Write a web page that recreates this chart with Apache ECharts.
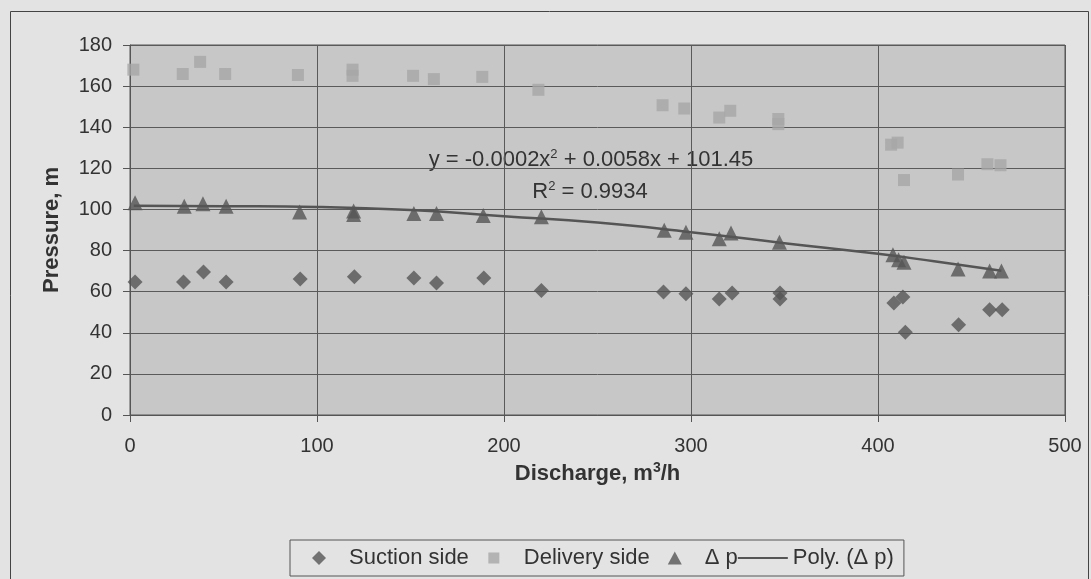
<!DOCTYPE html>
<html>
<head>
<meta charset="utf-8">
<script src="https://cdn.jsdelivr.net/npm/echarts@6/dist/echarts.min.js"></script>
<style>
  html, body { margin: 0; padding: 0; background: #e3e3e3; }
  #chart { width: 1091px; height: 579px; }
</style>
</head>
<body>
<div id="chart"></div>
<script>
// values (discharge m3/h, pressure m)
var suctionX = [2.7, 28.6, 39.3, 51.4, 91, 120, 151.8, 163.9, 189.2, 220, 285.3, 297.3, 315.1, 322, 347.6, 347.6, 408.5, 413.3, 414.6, 443.1, 459.7, 466.4];
var suctionY = [64.7, 64.7, 69.6, 64.7, 66.2, 67.2, 66.7, 64.2, 66.7, 60.6, 59.8, 59, 56.4, 59.3, 59.4, 56.4, 54.5, 57.4, 40.2, 43.9, 51.2, 51.2];

var deliveryX = [1.8, 28.2, 37.5, 50.9, 89.8, 119, 119, 151.4, 162.5, 188.4, 218.4, 284.8, 296.4, 315.1, 321, 346.7, 346.7, 407, 410.5, 413.9, 442.8, 458.5, 465.5];
var deliveryY = [168, 165.9, 171.8, 165.9, 165.4, 168, 165, 165, 163.4, 164.5, 158.2, 150.7, 149.1, 144.7, 148, 144, 141.5, 131.5, 132.5, 114.3, 117, 122, 121.5];

var deltaX = [2.7, 29, 39, 51.4, 90.7, 119.6, 119.6, 151.8, 163.9, 188.9, 220, 285.7, 297.3, 315.1, 321.4, 347.3, 408, 411, 413.9, 442.8, 459.7, 466];
var deltaY = [103.3, 101.6, 102.8, 101.6, 98.7, 99.2, 97.5, 98, 98, 97.1, 96.4, 89.9, 88.9, 85.7, 88.6, 84, 78, 75.5, 74.3, 71, 70, 70];

// trend line as traced on the picture
var trendX = [2, 50, 100, 150, 200, 250, 300, 350, 400, 430, 466];
var trendY = [101.8, 101.6, 101.2, 99.7, 96.7, 93.6, 88.9, 83.6, 78.4, 74.8, 70.2];

var seriesNames = ["Suction side", "Delivery side", "\u0394 p", "Poly. (\u0394 p)"];

function pairs(xs, ys) {
  return xs.map(function (x, i) { return [x, ys[i]]; });
}

// legend icons: the leading moves pin the box to 50x14 so the marks sit centred
var iconBox = "path://M0,0M50,14";
var legendIcons = [
  iconBox + "M25,0L32,7L25,14L18,7Z",
  iconBox + "M19.5,1.5H30.5V12.5H19.5Z",
  iconBox + "M25,0.5L32,13.5H18Z",
  iconBox + "M0,6H50V8H0Z"
];

var chart = echarts.init(document.getElementById("chart"));
var font = "Liberation Sans, Arial, sans-serif";

var supText = {
  t: { fontSize: 22, fill: "#333", fontFamily: font },
  s: { fontSize: 13, fill: "#333", fontFamily: font, verticalAlign: "top", padding: [0, 0, 12, 0] }
};

var option = {
  backgroundColor: "#e3e3e3",
  animation: false,
  textStyle: { fontFamily: font },
  grid: {
    left: 130, top: 45, right: 26, bottom: 164,
    show: true,
    backgroundColor: "#c7c7c7",
    borderColor: "#555",
    borderWidth: 1
  },
  xAxis: {
    type: "value",
    min: 0, max: 500, interval: 100,
    name: "{t|Discharge, m}{s|3}{t|/h}",
    nameLocation: "middle",
    nameGap: 42,
    nameTextStyle: {
      rich: {
        t: { fontSize: 22, fontWeight: "bold", color: "#333", fontFamily: font },
        s: { fontSize: 14, fontWeight: "bold", color: "#333", fontFamily: font, verticalAlign: "top", padding: [0, 0, 12, 0] }
      }
    },
    axisLine: { lineStyle: { color: "#555" } },
    axisTick: { show: true, length: 7, lineStyle: { color: "#555" } },
    axisLabel: { fontSize: 20, color: "#333", margin: 21, fontFamily: font },
    splitLine: { show: true, lineStyle: { color: "#5a5a5a", width: 1 } }
  },
  yAxis: {
    type: "value",
    min: 0, max: 180, interval: 20,
    name: "Pressure, m",
    nameLocation: "middle",
    nameGap: 67,
    nameTextStyle: { fontSize: 22, fontWeight: "bold", color: "#333", fontFamily: font },
    axisLine: { show: true, lineStyle: { color: "#555" } },
    axisTick: { show: true, length: 7, lineStyle: { color: "#555" } },
    axisLabel: { fontSize: 20, color: "#333", margin: 18, fontFamily: font },
    splitLine: { show: true, lineStyle: { color: "#5a5a5a", width: 1 } }
  },
  legend: {
    left: 290, top: 540,
    orient: "horizontal",
    symbolKeepAspect: true,
    data: seriesNames.map(function (n, i) { return { name: n, icon: legendIcons[i] }; }),
    itemWidth: 50, itemHeight: 14, itemGap: 0,
    padding: [7, 10, 7, 4],
    borderColor: "#555", borderWidth: 1,
    textStyle: { fontSize: 22, color: "#333", fontFamily: font }
  },
  graphic: [
    {
      type: "rect", left: 8, top: 9, silent: true,
      shape: { width: 1078, height: 580 },
      style: { fill: "none", stroke: "#444", lineWidth: 1 }
    },
    {
      type: "text", x: 591, y: 160, silent: true,
      style: {
        text: "{t|y = -0.0002x}{s|2}{t| + 0.0058x + 101.45}",
        align: "center", verticalAlign: "middle",
        rich: supText
      }
    },
    {
      type: "text", x: 590, y: 192, silent: true,
      style: {
        text: "{t|R}{s|2}{t| = 0.9934}",
        align: "center", verticalAlign: "middle",
        rich: supText
      }
    }
  ],
  series: [
    {
      name: seriesNames[0], type: "scatter", symbol: "diamond", symbolSize: 15,
      itemStyle: { color: "#555555" },
      data: pairs(suctionX, suctionY), z: 3
    },
    {
      name: seriesNames[1], type: "scatter", symbol: "rect", symbolSize: 12,
      itemStyle: { color: "#a6a6a6" },
      data: pairs(deliveryX, deliveryY), z: 3
    },
    {
      name: seriesNames[2], type: "scatter", symbol: "triangle", symbolSize: 15,
      itemStyle: { color: "#555555" },
      data: pairs(deltaX, deltaY), z: 3
    },
    {
      name: seriesNames[3], type: "line", smooth: true, symbol: "none",
      lineStyle: { color: "#555555", width: 2.5 },
      itemStyle: { color: "#555555" },
      data: pairs(trendX, trendY), z: 2
    }
  ]
};

chart.setOption(option);
</script>
</body>
</html>
